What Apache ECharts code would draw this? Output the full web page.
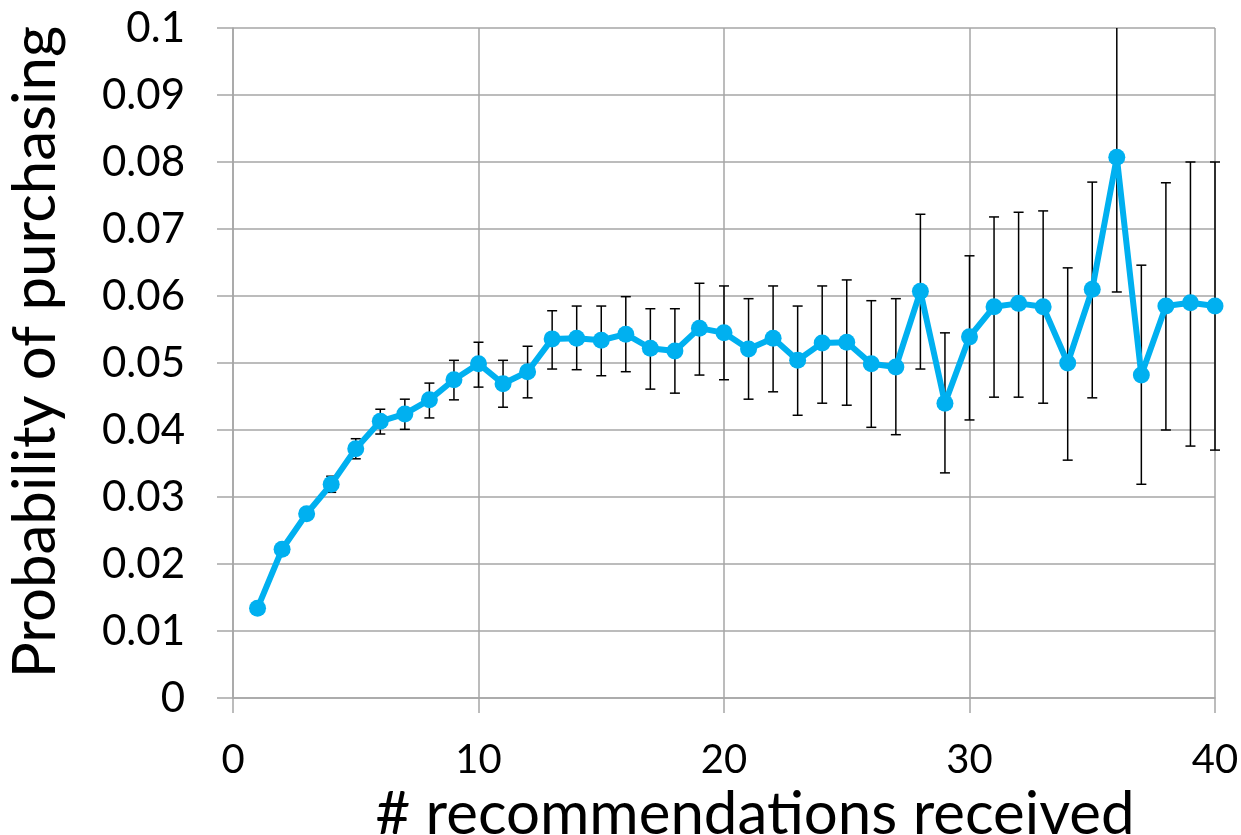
<!DOCTYPE html>
<html>
<head>
<meta charset="utf-8">
<script src="https://cdn.jsdelivr.net/npm/echarts@6/dist/echarts.min.js"></script>
<style>
  html, body { margin: 0; padding: 0; background: #fff; }
  #chart { width: 1241px; height: 835px; }
</style>
</head>
<body>
<div id="chart"></div>
<script>
// ---- data ----
const recCounts = [1,2,3,4,5,6,7,8,9,10,11,12,13,14,15,16,17,18,19,20,21,22,23,24,25,26,27,28,29,30,31,32,33,34,35,36,37,38,39,40];
const probValues = [0.0134,0.0222,0.0275,0.0319,0.0372,0.0413,0.0424,0.0445,0.0475,0.0499,0.0469,0.0487,0.0536,0.0537,0.0534,0.0543,0.0522,0.0518,0.0552,0.0545,0.0521,0.0537,0.0504,0.0530,0.0531,0.0499,0.0494,0.0607,0.0440,0.0539,0.0584,0.0589,0.0584,0.0500,0.0610,0.0807,0.0482,0.0585,0.0590,0.0585];
const errUpper = [0.0138,0.0228,0.0283,0.0331,0.0387,0.0431,0.0446,0.0470,0.0504,0.0531,0.0504,0.0525,0.0578,0.0585,0.0585,0.0599,0.0581,0.0581,0.0619,0.0615,0.0596,0.0615,0.0585,0.0615,0.0624,0.0593,0.0596,0.0722,0.0545,0.0660,0.0718,0.0725,0.0727,0.0642,0.0770,0.1007,0.0646,0.0769,0.0800,0.0800];
const errLower = [0.0130,0.0216,0.0267,0.0307,0.0357,0.0394,0.0401,0.0418,0.0445,0.0464,0.0434,0.0448,0.0491,0.0490,0.0481,0.0487,0.0461,0.0455,0.0482,0.0475,0.0446,0.0457,0.0422,0.0440,0.0437,0.0404,0.0393,0.0491,0.0336,0.0415,0.0449,0.0449,0.0440,0.0355,0.0448,0.0606,0.0319,0.0400,0.0376,0.0370];
const xTickLabels = ['0','10','20','30','40'];
const yTickLabels = ['0','0.01','0.02','0.03','0.04','0.05','0.06','0.07','0.08','0.09','0.1'];
const xTitle = '# recommendations received';
const yTitle = 'Probability of purchasing';

const Y_MAX = 0.1;
const lineData = recCounts.map((x, i) => [x, probValues[i]]);
const errData = recCounts.map((x, i) => [x, errLower[i], errUpper[i]]);

const FONT = 'Lato';
const GRID_COLOR = '#a6a6a6';

const chart = echarts.init(document.getElementById('chart'), null, { renderer: 'canvas' });
chart.setOption({
  backgroundColor: '#ffffff',
  animation: false,
  grid: { left: 233, right: 26, top: 28, bottom: 137, containLabel: false, outerBoundsMode: 'none' },
  xAxis: {
    type: 'value', min: 0, max: 40, interval: 10,
    name: xTitle, nameLocation: 'middle', nameGap: 80,
    nameTextStyle: { fontFamily: FONT, fontSize: 60, color: '#000', padding: [0, 0, 0, 62] },
    axisLine: { show: true, lineStyle: { color: GRID_COLOR, width: 1.5 } },
    axisTick: { show: true, inside: false, length: 15, lineStyle: { color: GRID_COLOR, width: 1.5 } },
    axisLabel: {
      margin: 42, fontFamily: FONT, fontSize: 40, color: '#000',
      formatter: v => xTickLabels[Math.round(v / 10)] ?? ''
    },
    splitLine: { show: true, lineStyle: { color: GRID_COLOR, width: 1.5 } }
  },
  yAxis: {
    type: 'value', min: 0, max: Y_MAX, interval: 0.01,
    name: yTitle, nameLocation: 'middle', nameGap: 167,
    nameTextStyle: { fontFamily: FONT, fontSize: 60, color: '#000', padding: [0, 0, 0, 22] },
    axisLine: { show: true, lineStyle: { color: GRID_COLOR, width: 1.5 } },
    axisTick: { show: true, inside: false, length: 16, lineStyle: { color: GRID_COLOR, width: 1.5 } },
    axisLabel: {
      margin: 48, fontFamily: FONT, fontSize: 42, color: '#000',
      formatter: v => yTickLabels[Math.round(v * 100)] ?? ''
    },
    splitLine: { show: true, lineStyle: { color: GRID_COLOR, width: 1.5 } }
  },
  series: [
    {
      type: 'custom',
      name: 'error',
      z: 2,
      data: errData,
      encode: { x: 0, y: [1, 2] },
      renderItem: function (params, api) {
        const x = api.value(0);
        const lo = api.value(1);
        const hi = api.value(2);
        const clipped = hi > Y_MAX;
        const top = api.coord([x, Math.min(hi, Y_MAX)]);
        const bot = api.coord([x, lo]);
        const hw = 5;
        const st = { stroke: '#000', lineWidth: 1.5 };
        const children = [
          { type: 'line', shape: { x1: top[0], y1: top[1], x2: bot[0], y2: bot[1] }, style: st },
          { type: 'line', shape: { x1: bot[0] - hw, y1: bot[1], x2: bot[0] + hw, y2: bot[1] }, style: st }
        ];
        if (!clipped) {
          children.push({ type: 'line', shape: { x1: top[0] - hw, y1: top[1], x2: top[0] + hw, y2: top[1] }, style: st });
        }
        return { type: 'group', children: children };
      }
    },
    {
      type: 'line',
      name: 'prob',
      z: 3,
      data: lineData,
      symbol: 'circle',
      symbolSize: 17,
      showSymbol: true,
      lineStyle: { color: '#00b0f0', width: 6 },
      itemStyle: { color: '#00b0f0' }
    }
  ]
});
</script>
</body>
</html>
